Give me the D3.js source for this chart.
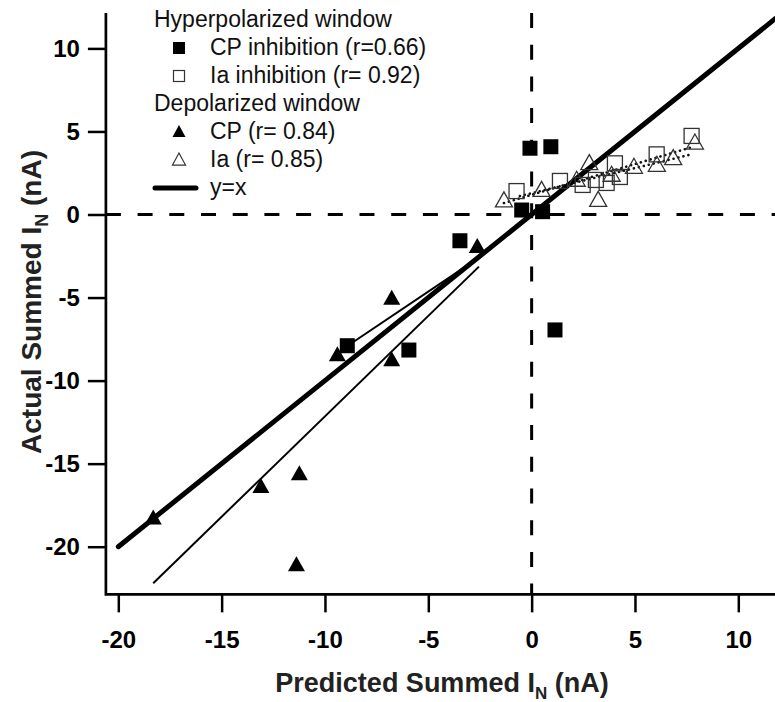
<!DOCTYPE html>
<html>
<head>
<meta charset="utf-8">
<script src="https://cdn.jsdelivr.net/npm/d3@7"></script>
<style>
  html, body { margin: 0; padding: 0; background: #fff; }
  svg { display: block; font-family: Arial, "Liberation Sans", Helvetica, sans-serif; }
</style>
</head>
<body>
<svg id="chart" width="775" height="702"></svg>
<script>
// ---------------- data ----------------
const xTicks = [-20, -15, -10, -5, 0, 5, 10];
const yTicks = [-20, -15, -10, -5, 0, 5, 10];

// Hyperpolarized window – CP inhibition (filled squares)
const cpInhibition = [
  [-0.08, 3.99], [0.93, 4.08], [-0.48, 0.27], [0.53, 0.17],
  [-3.47, -1.58], [-8.92, -7.90], [-5.94, -8.16], [1.13, -6.95]
];
// Hyperpolarized window – Ia inhibition (open squares)
const iaInhibition = [
  [-0.73, 1.41], [1.37, 2.02], [2.47, 1.78], [3.11, 2.08], [3.63, 1.90],
  [4.03, 3.08], [4.27, 2.26], [6.05, 3.62], [7.74, 4.73]
];
// Depolarized window – CP (filled triangles)
const cpDepol = [
  [-18.31, -18.29], [-13.10, -16.39], [-11.24, -15.62], [-11.38, -21.10],
  [-6.77, -5.05], [-9.40, -8.46], [-6.77, -8.76], [-2.63, -1.94]
];
// Depolarized window – Ia (open triangles)
const iaDepol = [
  [-1.34, 0.84], [0.48, 1.47], [2.18, 2.08], [2.79, 3.08], [3.22, 0.87],
  [3.87, 2.38], [4.95, 2.86], [6.06, 2.98], [6.85, 3.38], [7.90, 4.32]
];

// fitted lines (end points)
const fitCP = [[-18.31, -22.20], [-2.55, -3.14]];
const fitCPInh = [[-8.90, -7.90], [-2.50, -2.55]];
const fitIaA = [[-1.34, 0.69], [7.76, 4.06]];
const fitIaB = [[-0.57, 1.11], [7.80, 3.64]];
const identityLine = [[-20, -20], [11.8, 11.8]];

const xAxisExtent = [-20.6, 11.8];
const yAxisExtent = [-22.87, 12.13];

const legendItems = [
  { type: "header", label: "Hyperpolarized window" },
  { type: "sqFilled", label: "CP inhibition (r=0.66)" },
  { type: "sqOpen", label: "Ia inhibition (r= 0.92)" },
  { type: "header", label: "Depolarized window" },
  { type: "triFilled", label: "CP (r= 0.84)" },
  { type: "triOpen", label: "Ia (r= 0.85)" },
  { type: "line", label: "y=x" }
];

// ---------------- drawing ----------------
const svg = d3.select("#chart");
const x = d3.scaleLinear().domain([-20, 10]).range([118.3, 738.3]);
const y = d3.scaleLinear().domain([-20, 10]).range([546.7, 48.4]);

const line = d3.line().x(d => x(d[0])).y(d => y(d[1]));

// dashed zero lines
svg.append("line")
  .attr("x1", x(xAxisExtent[0])).attr("x2", x(xAxisExtent[1]))
  .attr("y1", y(0)).attr("y2", y(0))
  .attr("stroke", "#000").attr("stroke-width", 3)
  .attr("stroke-dasharray", "15,16.7");
svg.append("line")
  .attr("x1", x(0)).attr("x2", x(0))
  .attr("y1", y(yAxisExtent[1])).attr("y2", y(yAxisExtent[0]))
  .attr("stroke", "#000").attr("stroke-width", 3)
  .attr("stroke-dasharray", "15,16.7");

// fit lines
[fitCP, fitCPInh].forEach(f => {
  svg.append("path").attr("d", line(f))
    .attr("fill", "none").attr("stroke", "#000").attr("stroke-width", 2);
});
[fitIaA, fitIaB].forEach(f => {
  svg.append("path").attr("d", line(f))
    .attr("fill", "none").attr("stroke", "#111").attr("stroke-width", 2.6)
    .attr("stroke-linecap", "round").attr("stroke-dasharray", "0.1,5");
});

// identity line
svg.append("path").attr("d", line(identityLine))
  .attr("fill", "none").attr("stroke", "#000").attr("stroke-width", 5)
  .attr("stroke-linecap", "round");

// marker helpers
function triPath(cx, cy, w, h) {
  return `M${cx},${cy - h * 0.58} L${cx + w / 2},${cy + h * 0.42} L${cx - w / 2},${cy + h * 0.42} Z`;
}

svg.append("g").selectAll("rect").data(cpInhibition).join("rect")
  .attr("x", d => x(d[0]) - 7.5).attr("y", d => y(d[1]) - 7.5)
  .attr("width", 15).attr("height", 15).attr("fill", "#000");

svg.append("g").selectAll("path").data(cpDepol).join("path")
  .attr("d", d => triPath(x(d[0]), y(d[1]), 17, 15)).attr("fill", "#000");

svg.append("g").selectAll("rect").data(iaInhibition).join("rect")
  .attr("x", d => x(d[0]) - 7.5).attr("y", d => y(d[1]) - 7.5)
  .attr("width", 15).attr("height", 15)
  .attr("fill", "none").attr("stroke", "#333").attr("stroke-width", 1.3);

svg.append("g").selectAll("path").data(iaDepol).join("path")
  .attr("d", d => triPath(x(d[0]), y(d[1]), 17, 15))
  .attr("fill", "none").attr("stroke", "#333").attr("stroke-width", 1.3);

// axes
const axisY0 = y(yAxisExtent[0]);
const axisX0 = x(xAxisExtent[0]);
const fmt = d => String(d);

const gx = svg.append("g").attr("transform", `translate(0,${axisY0})`)
  .call(d3.axisBottom(x).tickValues(xTicks).tickSize(18).tickPadding(19).tickFormat(fmt));
gx.select(".domain").remove();
gx.selectAll(".tick line").attr("stroke-width", 2.5);
gx.selectAll(".tick text").attr("font-size", 24).attr("font-weight", "bold")
  .attr("font-family", "Arial, 'Liberation Sans', sans-serif").attr("fill", "#000");

const gy = svg.append("g").attr("transform", `translate(${axisX0},0)`)
  .call(d3.axisLeft(y).tickValues(yTicks).tickSize(18).tickPadding(8).tickFormat(fmt));
gy.select(".domain").remove();
gy.selectAll(".tick line").attr("stroke-width", 2.5);
gy.selectAll(".tick text").attr("font-size", 24).attr("font-weight", "bold")
  .attr("font-family", "Arial, 'Liberation Sans', sans-serif").attr("fill", "#000");

// axis lines
svg.append("path")
  .attr("d", `M${axisX0},${y(yAxisExtent[1])} L${axisX0},${axisY0} L${x(xAxisExtent[1])},${axisY0}`)
  .attr("fill", "none").attr("stroke", "#000").attr("stroke-width", 2.7);

// axis titles
const xt = svg.append("text").attr("x", 442).attr("y", 692)
  .attr("text-anchor", "middle").attr("font-size", 27).attr("font-weight", "bold").attr("fill", "#222");
xt.append("tspan").text("Predicted Summed I");
xt.append("tspan").attr("font-size", 17).attr("dy", 7).text("N");
xt.append("tspan").attr("dy", -7).text(" (nA)");

const yt = svg.append("text").attr("transform", "translate(41,302) rotate(-90)")
  .attr("text-anchor", "middle").attr("font-size", 28).attr("font-weight", "bold").attr("fill", "#222");
yt.append("tspan").text("Actual Summed I");
yt.append("tspan").attr("font-size", 18).attr("dy", 7).text("N");
yt.append("tspan").attr("dy", -7).text(" (nA)");

// legend
const lg = svg.append("g");
legendItems.forEach((it, i) => {
  const base = 27 + i * 28;
  const cy = base - 7;
  const tx = it.type === "header" ? 154 : 210;
  if (it.type === "sqFilled") {
    lg.append("rect").attr("x", 173).attr("y", cy - 6).attr("width", 12).attr("height", 12).attr("fill", "#000");
  } else if (it.type === "sqOpen") {
    lg.append("rect").attr("x", 173.5).attr("y", cy - 5.5).attr("width", 11).attr("height", 11)
      .attr("fill", "none").attr("stroke", "#333").attr("stroke-width", 1.2);
  } else if (it.type === "triFilled") {
    lg.append("path").attr("d", triPath(179, cy, 13, 12)).attr("fill", "#000");
  } else if (it.type === "triOpen") {
    lg.append("path").attr("d", triPath(179, cy, 13, 12)).attr("fill", "none")
      .attr("stroke", "#333").attr("stroke-width", 1.2);
  } else if (it.type === "line") {
    lg.append("line").attr("x1", 155).attr("x2", 196).attr("y1", cy).attr("y2", cy)
      .attr("stroke", "#000").attr("stroke-width", 5).attr("stroke-linecap", "round");
  }
  lg.append("text").attr("x", tx).attr("y", base)
    .attr("font-size", 23).attr("fill", "#111").text(it.label);
});
</script>
</body>
</html>
